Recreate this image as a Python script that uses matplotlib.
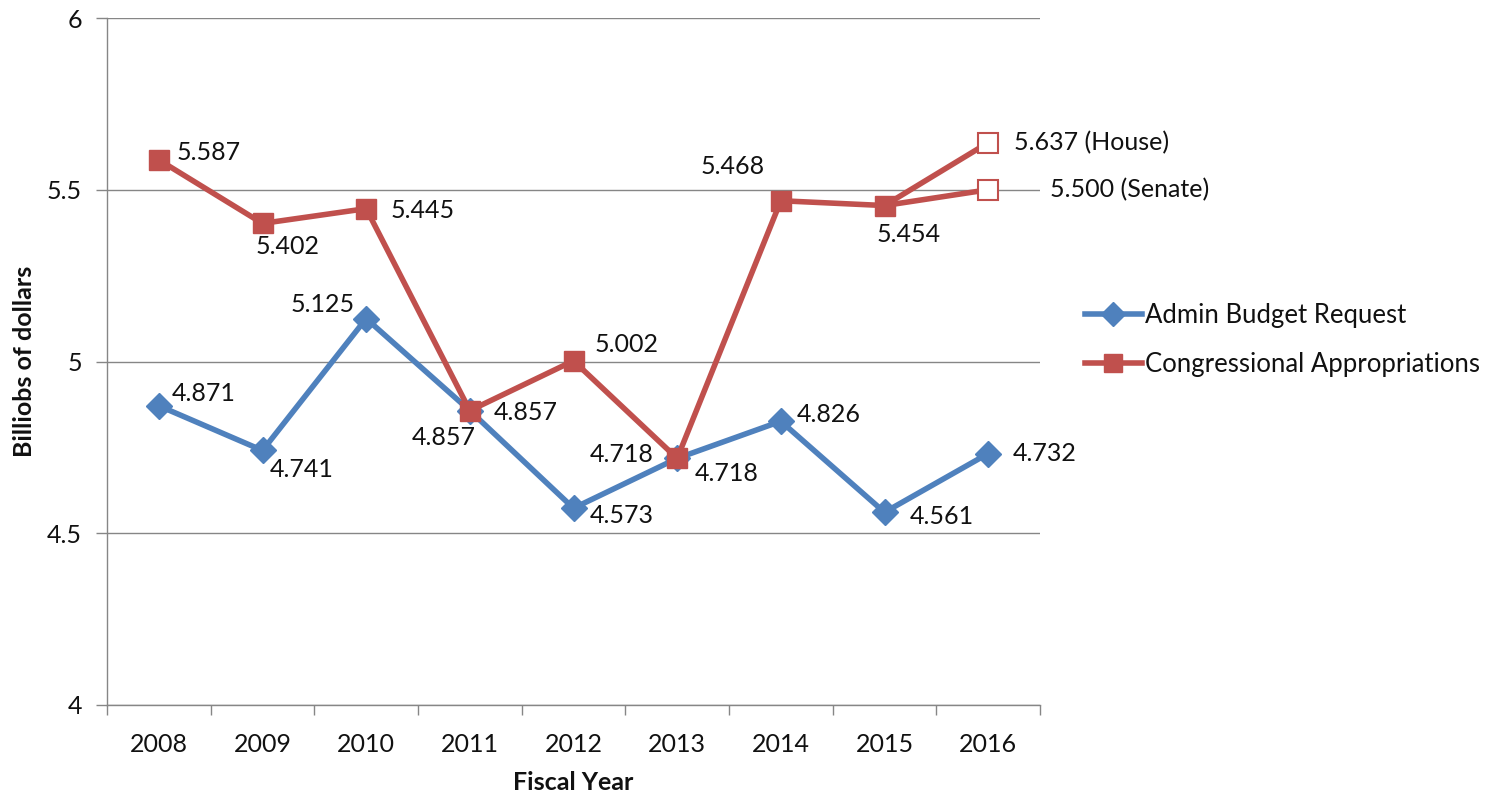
import matplotlib.pyplot as plt
from matplotlib.lines import Line2D

plt.rcParams['font.family'] = ['Lato', 'DejaVu Sans']

years = ['2008', '2009', '2010', '2011', '2012', '2013', '2014', '2015', '2016']
admin = [4.871, 4.741, 5.125, 4.857, 4.573, 4.718, 4.826, 4.561, 4.732]
congress = [5.587, 5.402, 5.445, 4.857, 5.002, 4.718, 5.468, 5.454]
house_2016 = 5.637
senate_2016 = 5.500
yticks = [4, 4.5, 5, 5.5, 6]
ytick_labels = ['4', '4.5', '5', '5.5', '6']

blue = '#4F81BD'
red = '#C0504D'
grey = '#868686'
txt = '#111111'
fs = 18

# label offsets in pixels (dx, dy)
admin_off = [(45, 12), (39, -19), (-44, 14), (-26, -27), (48, -7),
             (-55, 4), (48, 7), (57, -4), (57, 0)]
cong_off = [(50, 7), (25, -23), (56, -2), (56, -2), (53, 16),
            (50, -15), (-48, 34), (24, -29)]

fig = plt.figure(figsize=(14.95, 7.96), dpi=100)
ax = fig.add_axes([107 / 1495, 1 - 705 / 796, (1040 - 107) / 1495, (705 - 18) / 796])

x = list(range(len(years)))
xc = x[:len(congress)]

ax.plot(x, admin, color=blue, lw=4, marker='D', ms=13.5, mec=blue, mfc=blue, zorder=3)
ax.plot(xc, congress, color=red, lw=4, marker='s', ms=15, mec=red, mfc=red, zorder=4)
# 2016 house / senate branches
for v in [house_2016, senate_2016]:
    ax.plot([xc[-1], x[-1]], [congress[-1], v], color=red, lw=4, zorder=4)
    ax.plot([x[-1]], [v], marker='s', ms=14, mfc='white', mec=red, mew=1.5, zorder=5)

for xi, v, (dx, dy) in zip(x, admin, admin_off):
    ax.annotate('%.3f' % v, (xi, v), xytext=(dx, dy), textcoords='offset pixels',
                ha='center', va='center', fontsize=fs, color=txt, zorder=6,
                annotation_clip=False)
for xi, v, (dx, dy) in zip(xc, congress, cong_off):
    ax.annotate('%.3f' % v, (xi, v), xytext=(dx, dy), textcoords='offset pixels',
                ha='center', va='center', fontsize=fs, color=txt, zorder=6)
ax.annotate('%.3f (House)' % house_2016, (x[-1], house_2016), xytext=(26, 0),
            textcoords='offset pixels', ha='left', va='center', fontsize=fs,
            color=txt, annotation_clip=False)
ax.annotate('%.3f (Senate)' % senate_2016, (x[-1], senate_2016), xytext=(62, 0),
            textcoords='offset pixels', ha='left', va='center', fontsize=fs,
            color=txt, annotation_clip=False)

ax.set_xlim(-0.5, len(years) - 0.5)
ax.set_ylim(4, 6)
ax.set_yticks(yticks)
ax.set_yticklabels(ytick_labels, fontsize=fs, color=txt)
ax.set_xticks(x)
ax.set_xticklabels(years, fontsize=fs, color=txt)
ax.set_xticks([i - 0.5 for i in range(len(years) + 1)], minor=True)
ax.tick_params(axis='x', which='major', length=0, pad=20)
ax.tick_params(axis='x', which='minor', length=7, color=grey, width=1)
ax.tick_params(axis='y', length=8, color=grey, width=1, pad=10)

ax.grid(axis='y', color=grey, lw=1)
ax.set_axisbelow(True)
for s in ['top', 'right']:
    ax.spines[s].set_visible(False)
for s in ['left', 'bottom']:
    ax.spines[s].set_color(grey)
    ax.spines[s].set_linewidth(1)

ax.set_ylabel('Billiobs of dollars', fontsize=18, fontweight='bold', labelpad=8, color=txt)
ax.set_xlabel('Fiscal Year', fontsize=18, fontweight='bold', labelpad=11, color=txt)

handles = [Line2D([], [], color=blue, lw=4, marker='D', ms=12),
           Line2D([], [], color=red, lw=4, marker='s', ms=13)]
ax.legend(handles, ['Admin Budget Request', 'Congressional Appropriations'],
          loc='center left', bbox_to_anchor=(1085 / 1495, 1 - 340 / 796),
          bbox_transform=fig.transFigure, frameon=False, fontsize=18.5,
          handlelength=2.2, handletextpad=0.15, labelspacing=0.95,
          borderpad=0, borderaxespad=0, labelcolor=txt)

fig.savefig('out.png', dpi=100)
